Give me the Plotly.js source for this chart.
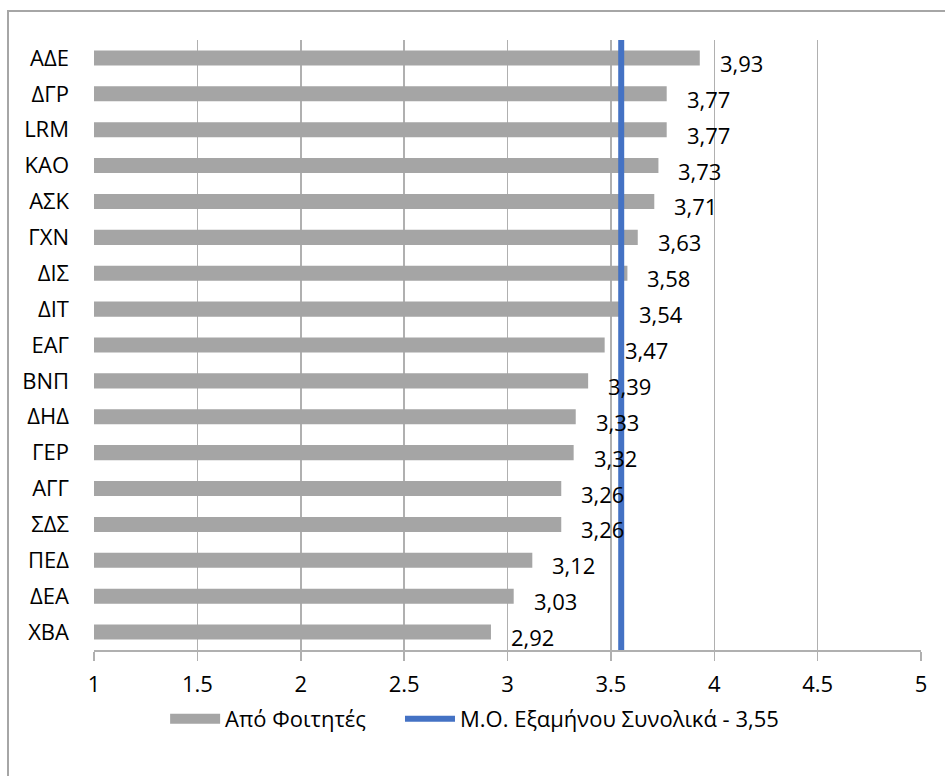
<!DOCTYPE html>
<html>
<head>
<meta charset="utf-8">
<script src="https://cdn.plot.ly/plotly-3.0.1.min.js"></script>
<style>
  html, body { margin: 0; padding: 0; width: 945px; height: 776px; overflow: hidden; background: #ffffff; }
  #frame { position: absolute; left: 7px; top: 10px; width: 1000px; height: 1000px; border-top: 2px solid #a6a6a6; border-left: 2px solid #a6a6a6; }
  #chart { position: absolute; left: 0; top: 0; width: 945px; height: 776px; }
</style>
</head>
<body>
<div id="frame"></div>
<div id="chart"></div>
<script>
const categories = ["ΑΔΕ","ΔΓΡ","LRM","ΚΑΟ","ΑΣΚ","ΓΧΝ","ΔΙΣ","ΔΙΤ","ΕΑΓ","ΒΝΠ","ΔΗΔ","ΓΕΡ","ΑΓΓ","ΣΔΣ","ΠΕΔ","ΔΕΑ","ΧΒΑ"];
const values = [3.93,3.77,3.77,3.73,3.71,3.63,3.58,3.54,3.47,3.39,3.33,3.32,3.26,3.26,3.12,3.03,2.92];
const semesterMean = 3.55;
const xTickVals = [1,1.5,2,2.5,3,3.5,4,4.5,5];
const barName = "Από Φοιτητές";
const lineName = "Μ.Ο. Εξαμήνου Συνολικά - 3,55";

const fmt = v => v.toFixed(2).replace('.', ',');
const FONT = "'Open Sans', 'Noto Sans', sans-serif";
const FS = 22;

const barTrace = {
  type: 'bar',
  orientation: 'h',
  x: values.map(v => v - 1),
  base: 1,
  y: categories,
  width: 0.42,
  marker: { color: '#a5a5a5' },
  name: barName,
  showlegend: false,
  hoverinfo: 'y'
};

const legendBar = {
  type: 'scatter',
  mode: 'lines',
  x: [null], y: [null],
  line: { color: '#a5a5a5', width: 15 },
  name: barName,
  showlegend: true,
  legend: 'legend'
};

const lineTrace = {
  type: 'scatter',
  mode: 'lines',
  x: [semesterMean, semesterMean],
  y: [0, 1],
  yaxis: 'y2',
  line: { color: '#4472c4', width: 6 },
  name: lineName,
  hoverinfo: 'name',
  legend: 'legend2'
};

const annotations = categories.map((c, i) => ({
  x: values[i],
  y: c,
  xref: 'x',
  yref: 'y',
  text: fmt(values[i]),
  showarrow: false,
  xanchor: 'left',
  yanchor: 'middle',
  xshift: 18,
  yshift: -5,
  font: { family: FONT, size: FS, color: '#000000' }
}));

const legendCommon = {
  orientation: 'h',
  xanchor: 'left',
  y: -0.113,
  yanchor: 'middle',
  itemwidth: 50,
  font: { family: FONT, size: FS, color: '#000000' },
  bgcolor: 'rgba(0,0,0,0)'
};

const layout = {
  width: 945,
  height: 776,
  margin: { l: 94, r: 24, t: 40, b: 126 },
  paper_bgcolor: 'rgba(0,0,0,0)',
  plot_bgcolor: 'rgba(0,0,0,0)',
  font: { family: FONT, size: FS, color: '#000000' },
  xaxis: {
    range: [1, 5],
    tickvals: xTickVals,
    ticktext: xTickVals.map(String),
    showgrid: true,
    gridcolor: '#b0b0b0',
    gridwidth: 1.5,
    zeroline: false,
    showline: true,
    linecolor: '#b0b0b0',
    linewidth: 1.5,
    ticks: 'outside',
    ticklen: 9,
    tickwidth: 1.5,
    tickcolor: '#b0b0b0',
    ticklabelstandoff: 5,
    tickfont: { family: FONT, size: FS, color: '#000000' },
    fixedrange: true
  },
  yaxis: {
    type: 'category',
    categoryorder: 'array',
    categoryarray: categories,
    range: [categories.length - 0.5, -0.5],
    showgrid: false,
    zeroline: false,
    showline: false,
    ticks: '',
    ticklabelstandoff: 24,
    tickfont: { family: FONT, size: FS, color: '#000000' },
    fixedrange: true
  },
  yaxis2: {
    overlaying: 'y',
    range: [0, 1],
    visible: false,
    fixedrange: true
  },
  showlegend: true,
  legend: Object.assign({}, legendCommon, { x: 0.086 }),
  legend2: Object.assign({}, legendCommon, { x: 0.370 }),
  annotations: annotations
};

Plotly.newPlot('chart', [barTrace, legendBar, lineTrace], layout, { displayModeBar: false, staticPlot: true });
</script>
</body>
</html>
